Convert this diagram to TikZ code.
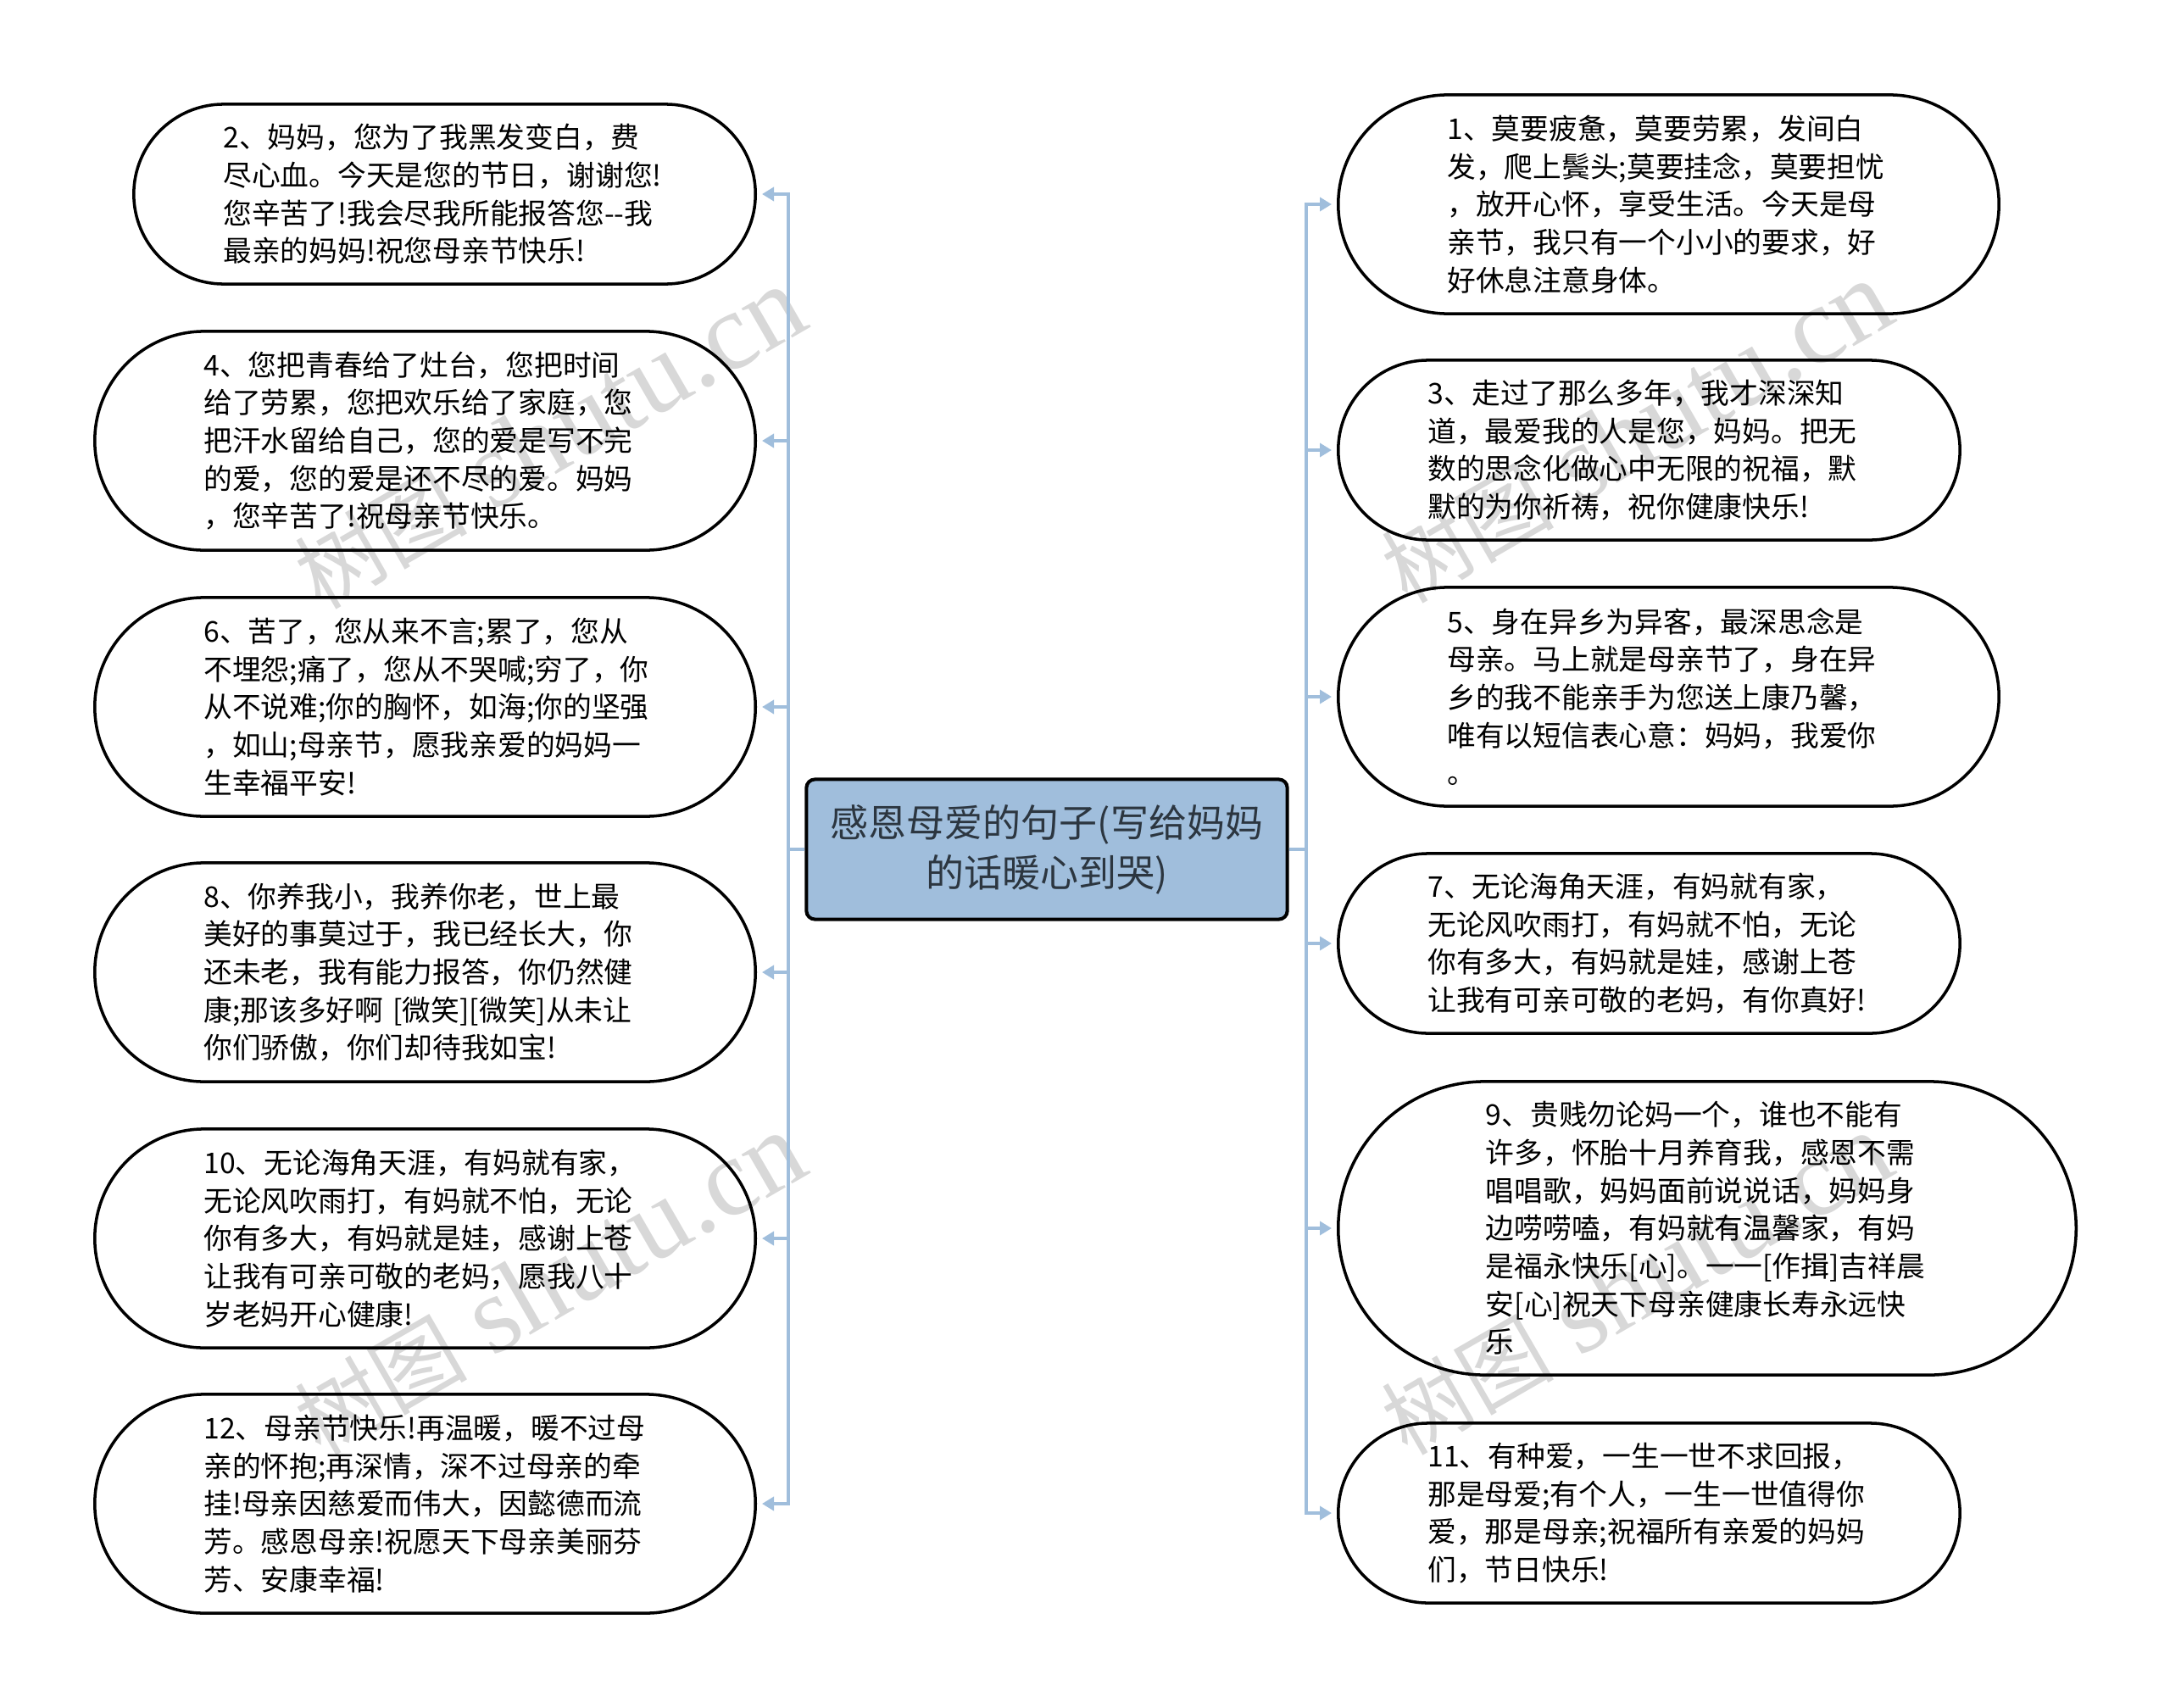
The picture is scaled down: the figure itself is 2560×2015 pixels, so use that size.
\documentclass[tikz,border=0pt]{standalone}
\usepackage{fontspec}
\setmainfont{Noto Sans CJK SC}
\newfontfamily\stampfont{Liberation Serif}
\usetikzlibrary{arrows.meta,shapes.misc}

\definecolor{branchblue}{HTML}{A0BEDC}
\definecolor{stampgray}{HTML}{D8D8D8}
\definecolor{roottext}{HTML}{2C3640}

% Watermark text, its two scripts at their own sizes
\newcommand{\stamptext}{{\fontsize{29}{33}\selectfont 树图} {\stampfont shutu.cn}}

\begin{document}
\begin{tikzpicture}[x=0.01cm, y=-0.01cm]

% Fix the page to the size of the reference
\useasboundingbox (0,0) rectangle (2560,2015);

% Define styles for root, bubbles and branches
\tikzstyle{root}=[rectangle, rounded corners=0.1cm, draw=black, line width=1.15pt, fill=branchblue, text=roottext, minimum width=5.67cm, minimum height=1.65cm, align=center, font=\fontsize{12.8}{16.8}\selectfont]
\tikzstyle{bubble}=[rounded rectangle, draw=black, line width=1pt, inner xsep=0pt, inner ysep=0pt, text width=5.22cm, align=left, font=\fontsize{9.6}{12.7}\selectfont]
\tikzstyle{bubble 4}=[bubble, minimum height=2.12cm, minimum width=7.33cm]
\tikzstyle{bubble 5}=[bubble, minimum height=2.58cm, minimum width=7.79cm]
\tikzstyle{bubble 7}=[bubble, minimum height=3.46cm, minimum width=8.7cm]
\tikzstyle{branch}=[draw=branchblue, line width=1pt, shorten >=0.06cm, -{Triangle[length=0.14cm, width=0.16cm]}]
\tikzstyle{stamp}=[text=stampgray, rotate=30, font=\fontsize{37}{37}\selectfont]

% Watermarks go under everything else
\node[stamp] (stampa) at (648,517) {\stamptext};
\node[stamp] (stampb) at (648,1515) {\stamptext};
\node[stamp] (stampc) at (1930,510) {\stamptext};
\node[stamp] (stampd) at (1930,1515) {\stamptext};

\node[root] (root) at (1235,1002) {感恩母爱的句子(写给妈妈\\的话暖心到哭)};

% Left column
\node[bubble 4, anchor=east] (two) at (893,229) {2、妈妈，您为了我黑发变白，费\\尽心血。今天是您的节日，谢谢您!\\您辛苦了!我会尽我所能报答您-{}-我\\最亲的妈妈!祝您母亲节快乐!};
\node[bubble 5, anchor=east] (four) at (893,520) {4、您把青春给了灶台，您把时间\\给了劳累，您把欢乐给了家庭，您\\把汗水留给自己，您的爱是写不完\\的爱，您的爱是还不尽的爱。妈妈\\，您辛苦了!祝母亲节快乐。};
\node[bubble 5, anchor=east] (six) at (893,834) {6、苦了，您从来不言;累了，您从\\不埋怨;痛了，您从不哭喊;穷了，你\\从不说难;你的胸怀，如海;你的坚强\\，如山;母亲节，愿我亲爱的妈妈一\\生幸福平安!};
\node[bubble 5, anchor=east] (eight) at (893,1147) {8、你养我小，我养你老，世上最\\美好的事莫过于，我已经长大，你\\还未老，我有能力报答，你仍然健\\康;那该多好啊 [微笑][微笑]从未让\\你们骄傲，你们却待我如宝!};
\node[bubble 5, anchor=east] (ten) at (893,1461) {10、无论海角天涯，有妈就有家，\\无论风吹雨打，有妈就不怕，无论\\你有多大，有妈就是娃，感谢上苍\\让我有可亲可敬的老妈，愿我八十\\岁老妈开心健康!};
\node[bubble 5, anchor=east] (twelve) at (893,1774) {12、母亲节快乐!再温暖，暖不过母\\亲的怀抱;再深情，深不过母亲的牵\\挂!母亲因慈爱而伟大，因懿德而流\\芳。感恩母亲!祝愿天下母亲美丽芬\\芳、安康幸福!};

% Right column
\node[bubble 5, anchor=west] (one) at (1577,241) {1、莫要疲惫，莫要劳累，发间白\\发，爬上鬓头;莫要挂念，莫要担忧\\，放开心怀，享受生活。今天是母\\亲节，我只有一个小小的要求，好\\好休息注意身体。};
\node[bubble 4, anchor=west] (three) at (1577,531) {3、走过了那么多年，我才深深知\\道，最爱我的人是您，妈妈。把无\\数的思念化做心中无限的祝福，默\\默的为你祈祷，祝你健康快乐!};
\node[bubble 5, anchor=west] (five) at (1577,822) {5、身在异乡为异客，最深思念是\\母亲。马上就是母亲节了，身在异\\乡的我不能亲手为您送上康乃馨，\\唯有以短信表心意：妈妈，我爱你\\。};
\node[bubble 4, anchor=west] (seven) at (1577,1113) {7、无论海角天涯，有妈就有家，\\无论风吹雨打，有妈就不怕，无论\\你有多大，有妈就是娃，感谢上苍\\让我有可亲可敬的老妈，有你真好!};
\node[bubble 7, anchor=west] (nine) at (1577,1449) {9、贵贱勿论妈一个，谁也不能有\\许多，怀胎十月养育我，感恩不需\\唱唱歌，妈妈面前说说话，妈妈身\\边唠唠嗑，有妈就有温馨家，有妈\\是福永快乐[心]。一一[作揖]吉祥晨\\安[心]祝天下母亲健康长寿永远快\\乐};
\node[bubble 4, anchor=west] (eleven) at (1577,1785) {11、有种爱，一生一世不求回报，\\那是母爱;有个人，一生一世值得你\\爱，那是母亲;祝福所有亲爱的妈妈\\们，节日快乐!};

% Branches run along a vertical bus on each side of the root
\coordinate (leftbus) at (930,1002);
\coordinate (rightbus) at (1541,1002);
\foreach \leaf in {two,four,six,eight,ten,twelve}
	\draw[branch] (root.west) -- (leftbus) |- (\leaf.east);
\foreach \leaf in {one,three,five,seven,nine,eleven}
	\draw[branch] (root.east) -- (rightbus) |- (\leaf.west);

\end{tikzpicture}
\end{document}
